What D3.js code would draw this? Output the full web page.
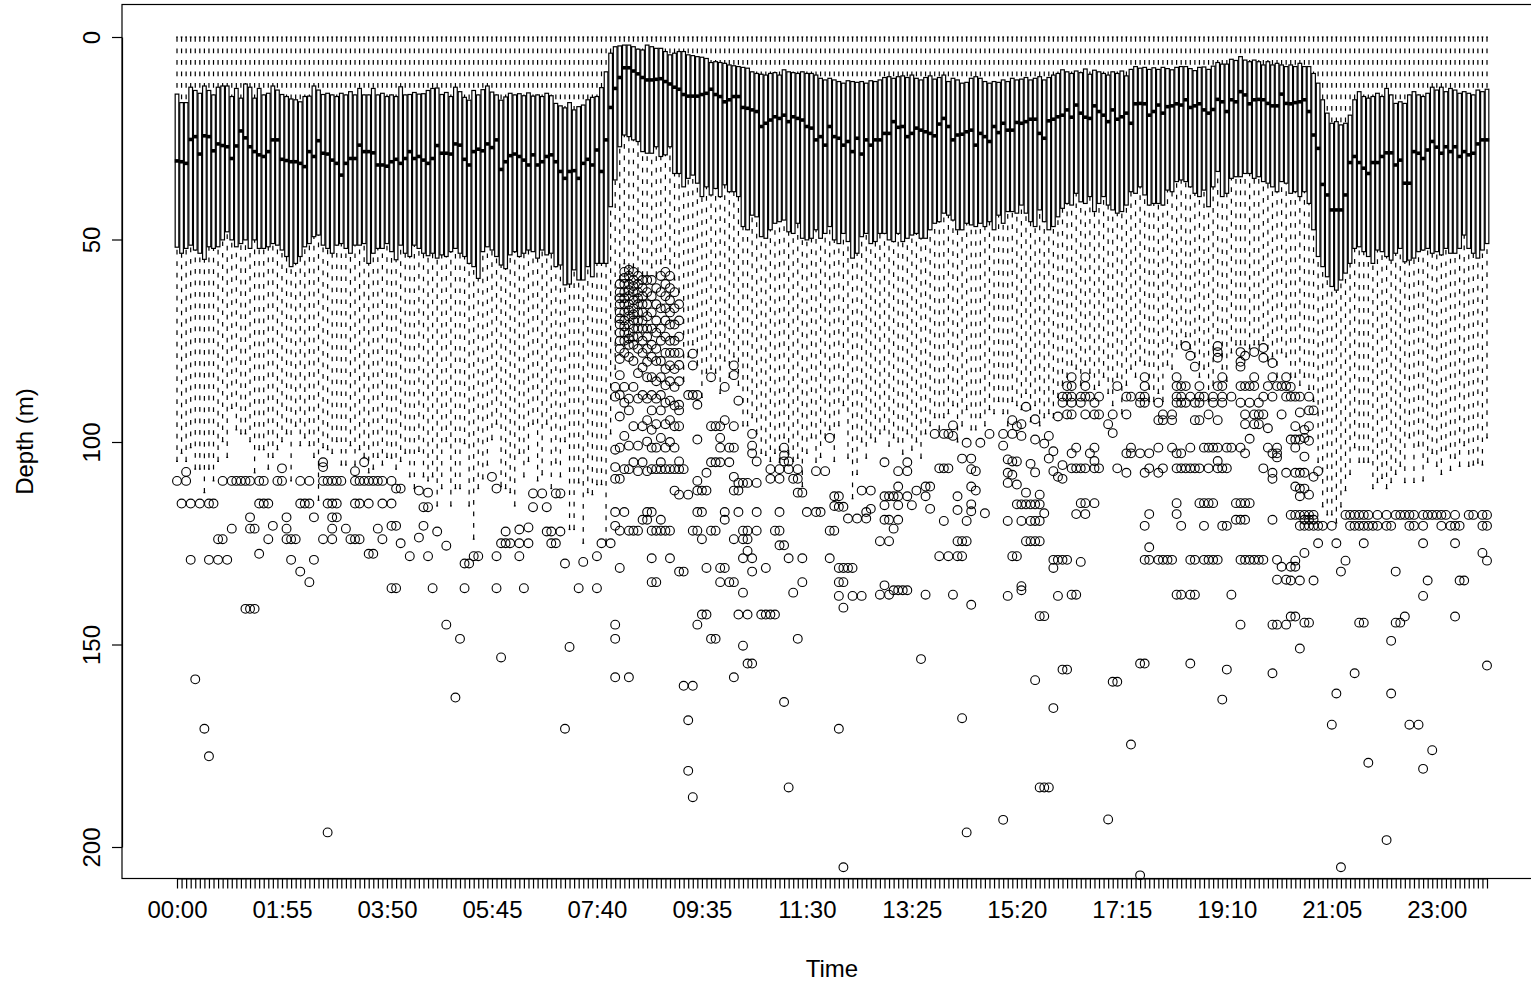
<!DOCTYPE html>
<html>
<head>
<meta charset="utf-8">
<script src="https://cdn.jsdelivr.net/npm/d3@7"></script>
<style>
  body { margin: 0; background: #fff; }
  svg { display: block; }
  text { font-family: "Liberation Sans", Arial, Helvetica, sans-serif; fill: #000; }
</style>
</head>
<body>
<svg id="chart" width="1531" height="986"></svg>
<script>
// Dive depth by time of day: one box per 5-minute bin (288 bins).
const times = [];
for (let m = 0; m < 1440; m += 5) {
  times.push(String(Math.floor(m / 60)).padStart(2, "0") + ":" + String(m % 60).padStart(2, "0"));
}
const tickLabels = ["00:00","01:55","03:50","05:45","07:40","09:35","11:30","13:25","15:20","17:15","19:10","21:05","23:00"];
const depthTicks = [0, 50, 100, 150, 200];

// shallowest value of every bin (surface)
const surfaceDepth = 0;

// lower hinge (25%), metres
const q1 = [
 14.1,16.2,16.2,12.4,13.2,13.9,12.1,13.2,14.3,12.4, 12.1,12.1,14.7,12.7,15.1,11.6,12.4,15.1,12.7,14.3,
 13.9,12.1,13.1,14.2,14.7,15.3,15.5,16.0,14.7,14.6, 12.1,13.1,14.2,13.9,14.3,14.7,13.9,14.3,13.5,14.3,
 12.7,14.3,14.3,12.7,14.3,13.9,14.7,14.3,14.7,12.3, 14.3,14.2,13.7,14.1,
 14.0,13.2,12.7,12.6,14.2,13.7,14.7,12.4,13.5,14.9, 15.6,13.2,14.3,13.0,12.1,13.6,14.3,15.6,14.8,13.9,
 14.3,14.0,14.5,13.8,14.6,14.3,14.7,13.9,14.5,16.4, 17.0,17.5,16.2,18.0,17.2,16.8,15.5,14.9,14.7,12.5,
 8.6,4.0,2.4,2.2,2.0,2.0,2.4,3.0,3.2,2.0, 2.4,2.8,2.8,3.6,4.4,4.0,3.6,3.6,4.4,4.6,4.85,
 5.0,5.3,6.3,6.1,6.3,6.5,6.9,7.1,7.3,7.5, 7.7,8.6,9.0,9.2,9.4,9.0,8.8,9.4,8.1,8.6,
 8.8,9.0,8.6,9.0,9.0,9.4,10.2,10.6,10.2,10.6, 11.0,11.4,10.8,11.0,11.2,11.0,11.4,10.8,11.0,10.6,
 10.0,9.8,10.2,9.8,9.6,10.0,9.4,10.2,10.6,10.0, 9.6,10.4,10.0,9.4,11.0,10.2,10.6,
 11.4,11.2,10.2,9.8,10.2,11.0,11.4,11.0,11.2,10.6, 11.0,10.2,10.6,10.4,10.0,10.6,10.2,9.8,10.6,10.0,
 9.4,9.0,8.1,8.6,9.0,8.4,8.8,7.9,9.2,8.2, 8.6,9.0,9.4,8.6,9.0,8.4,9.6,8.0,7.3,7.7,
 7.5,8.0,7.6,8.0,7.5,7.8,8.1,7.5,7.3,7.3, 7.8,8.3,7.5,7.4,8.0,7.2,6.3,6.7,6.7,5.5,5.8,
 4.85,5.7,6.1,5.7,6.1,6.9,6.1,6.9,6.5,6.9, 7.3,6.9,7.3,6.5,7.3,7.3,9.0,11.4,15.5,18.8,
 21.3,20.9,21.7,21.3,19.3,15.5,13.5,14.7,15.1,14.7, 13.9,14.7,12.7,14.3,16.4,16.0,16.4,14.3,13.5,14.3,
 14.7,13.9,12.4,13.1,12.4,13.5,12.7,13.1,13.9,13.5, 13.9,14.3,13.1,13.5,12.9
];

// median, metres
const med = [
 30.6,30.8,31.2,25.3,24.6,28.9,24.4,24.6,28.1,26.4, 26.8,27.1,30.0,26.9,23.2,24.9,27.1,28.3,29.1,29.5,
 28.3,25.4,25.4,30.2,30.5,30.8,30.8,31.2,32.0,28.3, 29.5,25.6,28.7,28.9,30.4,31.2,34.1,31.2,30.0,30.0,
 26.7,28.3,28.3,28.6,31.6,31.6,31.9,30.8,30.2,31.2, 30.0,28.3,30.0,29.5,
 30.4,31.2,30.0,26.8,28.7,28.7,28.9,26.4,26.7,30.2, 31.6,28.3,27.7,28.1,26.4,27.3,25.4,32.7,30.8,29.3,
 28.9,29.5,30.4,31.6,29.1,31.6,30.8,29.5,29.1,30.8, 33.2,34.9,33.2,33.0,34.9,31.2,30.2,31.6,27.9,33.2,
 25.4,17.4,12.7,10.0,7.6,7.6,8.4,9.1,10.0,10.6, 10.6,10.45,10.3,11.0,11.6,12.4,12.9,14.2,14.6,14.6,14.6,
 14.2,13.9,12.9,14.2,14.7,16.0,15.5,14.7,14.7,17.4, 17.6,18.0,18.4,22.1,21.3,20.5,19.7,20.1,19.3,20.9,
 19.7,20.1,20.5,22.1,22.5,25.4,24.6,26.7,22.1,24.6, 25.0,26.7,25.8,28.3,25.0,28.9,25.4,26.7,25.4,25.4,
 23.8,23.8,20.9,22.3,22.1,24.6,23.8,22.5,23.0,23.4, 23.8,24.4,21.5,20.1,22.1,25.4,24.2,
 24.0,23.4,23.0,26.7,23.8,24.6,25.8,22.1,23.6,21.3, 23.0,23.0,21.1,21.3,20.9,20.3,20.3,23.8,25.0,20.7,
 20.3,19.7,19.3,18.0,19.8,16.8,18.8,19.8,20.1,17.0, 18.4,19.3,20.9,18.0,20.3,19.7,18.8,21.3,16.5,16.4,
 16.5,19.3,18.4,16.8,18.8,17.2,17.0,16.5,16.8,15.5, 17.4,17.0,16.5,18.0,18.8,17.9,15.4,16.0,18.4,15.5,16.0,
 13.5,14.3,16.5,15.5,15.4,15.5,16.4,17.0,17.0,14.1, 16.4,16.5,16.2,16.0,15.5,18.4,24.2,27.5,36.4,39.0,
 42.7,42.7,42.7,39.0,31.0,29.5,31.0,32.4,33.7,31.0, 31.0,29.5,28.6,28.6,31.6,30.4,36.1,36.1,28.3,28.7,
 30.0,27.9,25.8,27.2,28.7,27.1,28.3,27.1,29.5,28.3, 29.1,28.7,26.4,25.4,25.4
];

// upper hinge (75%), metres
const q3 = [
 51.9,53.4,52.2,51.4,52.6,53.4,54.9,51.8,52.2,51.8, 50.1,48.1,50.1,51.8,51.0,50.1,52.2,50.1,52.2,52.2,
 51.8,51.0,51.4,52.6,54.2,56.7,55.9,54.2,51.8,51.0, 49.3,48.9,51.4,52.2,53.4,51.4,51.0,52.2,53.4,51.4,
 51.4,51.0,55.9,53.4,52.2,52.2,51.0,53.0,55.0,51.4, 53.4,54.2,51.4,52.2,
 53.4,54.0,53.4,54.6,53.8,54.2,53.0,52.2,53.4,54.2, 55.9,56.7,59.6,53.0,51.8,52.6,54.2,56.3,57.2,53.8,
 53.0,54.2,53.4,52.6,53.0,54.6,52.6,53.8,53.4,56.7, 56.3,61.2,61.0,57.5,60.0,60.0,56.7,59.2,55.9,55.9,
 55.9,41.9,35.3,27.1,24.2,24.6,25.4,25.8,28.3,28.7, 28.7,27.1,29.5,29.1,27.1,33.7,33.7,37.0,34.9,34.1,36.1,
 39.4,37.0,39.0,37.4,39.4,36.5,38.2,38.2,39.4,46.8, 47.6,44.0,44.4,49.3,49.7,47.6,46.0,45.6,45.2,48.1,
 48.5,46.0,49.7,50.1,49.7,47.6,49.7,48.5,46.8,50.1, 51.0,48.5,50.5,54.6,53.4,49.3,48.5,51.0,50.5,48.5,
 48.5,50.1,50.5,48.5,50.5,49.7,48.9,48.5,49.7,49.7, 47.6,46.0,45.6,43.5,44.0,45.2,47.6,
 47.6,46.0,46.4,46.8,46.0,46.8,45.6,47.6,44.0,46.0, 43.1,43.1,43.5,41.5,43.5,45.6,46.8,42.7,45.6,47.6,
 46.8,44.4,42.3,41.1,41.5,38.6,40.7,41.1,39.4,43.1, 41.1,39.4,41.5,42.7,43.5,43.1,41.5,38.2,38.6,37.0,
 39.0,41.5,41.1,41.1,41.5,37.8,38.2,35.7,35.3,35.7, 37.0,38.6,39.4,37.8,41.9,37.0,33.2,39.4,38.6,34.9,34.5,
 34.5,33.7,33.7,34.9,34.5,35.7,36.1,37.0,38.2,35.7, 36.1,38.6,38.2,39.4,38.2,41.1,47.6,54.2,56.7,59.2,
 61.6,62.5,60.0,58.3,55.9,52.2,51.8,53.0,54.2,55.9, 52.6,53.0,54.2,55.1,53.4,52.2,55.5,55.1,54.6,53.0,
 52.6,52.2,53.4,53.0,53.8,52.2,53.4,53.4,52.2,48.9, 52.2,53.4,54.6,52.6,51.0
];

// deepest value inside 1.5 IQR (lower whisker end), metres
const whiskerEnd = [
 104.8,102.8,104.8,101.4,106.7,106.7,112.5,106.7,109.6,104.8, 99.9,103.8,91.7,97.0,98.0,98.0,99.9,107.6,101.9,101.9,
 106.7,103.8,101.9,99.9,98.0,109.6,96.1,100.9,99.0,100.9, 103.8,114.4,101.4,101.9,102.8,99.9,105.7,105.7,100.9,105.7,
 101.9,103.8,107.6,106.7,103.8,105.7,103.8,104.0,
 106.7,104.8,102.8,108.6,111.5,102.3,108.6,109.6,108.6,115.8, 111.5,99.9,115.8,111.5,111.5,100.4,115.8,124.0,111.5,109.1,
 105.7,99.4,95.6,111.0,111.5,112.5,115.8,102.8,108.6,104.8, 95.6,109.6,108.1,95.6,111.5,105.2,108.6,99.9,121.6,121.6,
 110.1,125.0,112.5,113.0,110.5,110.5,125.0,98.0,
 82,60,56,57,57,58,59,59,57,59, 56,55,56,60,63,85,79,76,81,89,
 83,82,83,88,80,84,79,86,96,96, 94,98,102.8,103.3,104.8,102.8,105,99,103,104.8,
 104,111,102.8,99,105,103.8,99,97,104.8,96, 91,
 104,114,108,100,104,99,100,98,97,101, 99,100,103,98,102,100,104,98,96,94,
 97,94,93,91,100,96,92,97,97,94, 96,92,93,90,93,96,90,91,92,88,
 95,91,96,94,93,94,89,
 86,84,81,82,86,81,83,87,86,84, 88,91,84,93,86,82,84,80,81,90,
 90,88,90,81,82,77,76,74,77,79, 84,82,90,86,73,82,85,78,76,76,
 76,77,76,76,75,80,79,84,78,79,
 84,84,86,84,87,90,105,116,118,118, 120,116,112,108,101.4,105,105,105,111.5,110,
 109,111.5,110,108,106,110,99,110,101,109.6, 105,102.8,106,108,102,107,104,106,100.9,106,
 105.7,105.2,105.7,99
];

// outlying depths per bin: [bin index, depths]
const outliers = [
 [0,[109.6]],[1,[115.2]],[2,[107.4,109.6]],[3,[115.2,129.1]],[4,[158.6]],[5,[115.2]],[6,[170.8]],
 [7,[115.2,129.1,177.6]],[8,[115.2]],[9,[124.0,129.1]],[10,[109.6,124.0]],[11,[129.1]],[12,[109.6,121.4]],
 [13,[109.6]],[14,[109.6]],[15,[109.6,141.2]],[16,[109.6,118.6,121.4,141.2]],[17,[121.4,141.2]],
 [18,[109.6,115.2,127.6]],[19,[109.6,115.2]],[20,[115.2,124.0]],[21,[120.7]],[22,[109.6]],[23,[106.5,109.6]],
 [24,[118.6,121.4,124.0]],[25,[124.0,129.1]],[26,[124.0]],[27,[109.6,115.2,132.0]],[28,[115.2]],
 [29,[109.6,115.2,134.6]],[30,[118.6,129.1]],[32,[105.0,106.2,109.6,124.0]],[33,[109.6,115.2,196.4]],
 [34,[109.6,115.2,118.6,121.4,124.0]],[35,[109.6,115.2,118.6]],[36,[109.6]],[37,[121.4]],[38,[124.0]],
 [39,[107.2,109.6,115.2,124.0]],[40,[109.6,115.2,124.0]],[41,[105.0,109.6]],[42,[109.6,115.2,127.6]],
 [43,[109.6,127.6]],[44,[109.6,121.4]],[45,[109.6,115.2,124.0]],[47,[109.6,115.2,120.7,136.1]],
 [48,[111.5,120.7,136.1]],[49,[111.5,125.0]],[51,[128.2]],[53,[112.0,123.6]],[54,[116.1,120.7]],
 [55,[112.5,116.1,128.2]],[56,[136.1]],[57,[122.1]],[59,[125.6,145.1]],[61,[163.1]],[62,[148.6]],
 [63,[130.0,136.1]],[64,[130.0]],[65,[128.2]],[66,[128.2]],[69,[108.6]],[70,[111.5,128.2,136.1]],
 [71,[125.0,153.2]],[72,[122.1,125.0]],[73,[125.0]],[75,[121.6,125.0,128.2]],[76,[136.1]],[77,[121.1,125.0]],
 [78,[112.7,116.1]],[80,[112.7]],[81,[116.1,122.1]],[82,[122.1,125.0]],[83,[112.7,125.0]],[84,[112.7,122.1]],
 [85,[130.0,170.8]],[86,[150.6]],[88,[136.1]],[89,[129.6]],[92,[128.2,136.1]],[93,[125.0]],[95,[125.0]],
 [96,[86.4,88.8,101.9,106.2,109.1,117.3,120.7,145.1,148.6,158.1]],
 [97,[61,63,64.5,66,68,69.5,71,73,75,77,79.5,83.5,88.4,93.7,101.4,109.1,121.9,131.1]],
 [98,[58,59.5,61,63,64.5,66,68,70,71.5,73,75,78,86.4,90.3,98.5,106.7,117.3]],
 [99,[57.5,59,61,62.5,64,66,67.5,69,71,73,74.5,76,79,89.3,92.2,100.9,106.7,121.9,158.1]],
 [100,[58,60,61.5,63,65,67,68.5,70,72,74,76,80,86.4,96.1,105,121.9]],
 [101,[59,61,63,64.5,66,68,70,72,74,77,83,89.3,100.9,107.2,121.9]],
 [102,[60,62,64,66,68,70,72,75,78,81.6,88.4,96.1,105,119.2]],
 [103,[60,63,66,69,72,74,77,80.2,84,89.3,94.6,99.9,107.2,117.3,119.2]],
 [104,[60,64,68,72,76,79,84,88.4,92.2,97,101.4,106.7,117.3,121.9,128.7,134.6]],
 [105,[62,66,70,73,77,80,85,89.3,95.6,101.4,106.7,121.9,134.6]],
 [106,[59,63,67,72,75,80,84,88.4,92.2,99,105,106.7,119.2,121.9]],
 [107,[58,61,64,67,70,74,78,82,86,90.3,95.6,101.4,106.7,121.9]],
 [108,[59,62,65,68,71,75,78,81.1,85,89.8,94.6,100,106.7,121.9,128.7]],
 [109,[63,67,71,75,78,82,86.4,91,96.1,101.4,106.7,112]],
 [110,[66,70,74,78,81,85,90.8,92.2,96.1,104.8,106.7,113,132]],
 [111,[106.7,132,160.2]],[112,[88.4,113,168.7,181.2]],[113,[78.2,81.1,88.4,121.9,160.2,187.7]],
 [114,[88.4,90.8,99.4,109.6,112,117.3,121.9,145.1]],[115,[112,117.3,124,142.6]],[116,[107.6,112,131.1,142.6]],
 [117,[84,96.1,105,121.9,148.6]],[118,[96.1,105,121.9,148.6]],[119,[96.1,99,101.4,105,131.1,134.6]],
 [120,[86.4,94.6,117.3,119.2,131.1]],[121,[101.4,105,134.6]],[122,[81.1,83.5,96.1,101.4,108.6,112,124,134.6,158.1]],
 [123,[89.8,110.1,112,117.3,142.6]],[124,[110.1,121.9,124,128.7,137.2,150.3]],[125,[110.1,121.9,124,126.9,142.6,154.7]],
 [126,[98,100.9,102.8,128.7,132,154.7]],[127,[104.8,110.1,117.3,121.9]],[128,[142.6]],[129,[131.1,142.6]],
 [130,[106.7,109.1,142.6]],[131,[121.9,142.6]],[132,[106.7,109.1,117.3,121.9,125.5]],[133,[101.4,103.3,104.8,125.5,164.2]],
 [134,[104.8,106.7,128.7,185.3]],[135,[109.1,137.2]],[136,[106.7,109.1,112.5,148.6]],[137,[112.5,128.7,134.6]],
 [138,[117.3]],[140,[107.2,117.3]],[141,[117.3]],[142,[107.2]],[143,[99,121.9,128.7]],[144,[113.4,115.8,121.9]],
 [145,[113.4,116,131.1,134.6,138,170.8]],[146,[116,131.1,134.6,140.9,205]],[147,[118.9,131.1]],[148,[131.1,138]],
 [149,[118.9]],[150,[112,138]],[151,[117.3,118.9]],[152,[112,116.5]],[154,[124.5,137.7]],
 [155,[105,113.4,115.6,119.2,135.4]],[156,[113.4,119.2,124.5,137.7]],[157,[113.4,121.4,136.6]],
 [158,[107.2,111,113.4,115.6,119.2,136.6]],[159,[136.6]],[160,[105,107.2,113.4,136.6]],[161,[115.6]],[162,[112]],
 [163,[153.6]],[164,[111,113.4,137.7]],[165,[111,116.5]],[166,[98]],[167,[106.5,128.2]],[168,[98,106.5,119.5]],
 [169,[98,106.5,128.2]],[170,[95.9,98.5,137.7]],[171,[113.4,116.8,124.5,128.2]],[172,[104.1,124.5,128.2,168.2]],
 [173,[100.2,119.5,124.5,196.4]],[174,[104.1,106.7,111,115.4,117.1,140.2]],[175,[107.2,112]],[176,[100.2]],
 [177,[117.6]],[178,[98]],[181,[98,100.9,193.3]],[182,[104.3,107.6,110.1,119.5,138]],[183,[94.6,98,104.8,108.1,128.2]],
 [184,[96.1,104.8,110.5,115.4,128.2]],[185,[95.6,98.5,115.4,119.5,135.6,136.6]],[186,[91.3,112.5,115.4,124.5]],
 [187,[105.4,115.4,119.5,124.5]],[188,[94.4,99.4,107.5,115.4,119.5,124.5,158.8]],[189,[113,115.4,119.5,124.5,143,185.3]],
 [190,[100.4,117.6,143,185.3]],[191,[98.5,104.1,185.3]],[192,[102.3,107.2,129.1,131.1,165.7]],[193,[93.7,108.6,129.1,138]],
 [194,[88.8,90.3,105.7,109.1,129.1,156.2]],[195,[86.2,88.8,93.2,129.1,156.2]],
 [196,[84,86.2,88.8,90.3,93.2,102.8,106.5,137.7]],[197,[101.4,106.5,117.8,137.7]],[198,[88.8,90.3,106.5,115.1,129.6]],
 [199,[84,86.2,88.8,93.2,106.5,115.1,117.8]],[200,[88.8,102.8]],[201,[90.3,93.2,101.4,104.7,106.5,115.1]],
 [202,[88.8,93.2,106.5]],[204,[95.6,193.2]],[205,[93.2,97.8,159.2]],[206,[86.2,106.5,159.2]],
 [208,[88.8,93.2,102.8,107.6]],[209,[88.8,101.4,102.8,174.7]],[211,[88.8,90.3,102.8,154.7,207]],
 [212,[84,86.2,88.8,90.3,107.6,120.7,129.1,154.7]],[213,[102.8,106.5,117.8,126,129.1]],[215,[90.3,94.6,101.4,107.6,129.1]],
 [216,[93.2,94.6,106.5,129.1]],[217,[129.1]],[218,[93.2,94.6,101.4,129.1]],
 [219,[84,86.2,88.8,90.3,102.8,106.5,115.1,117.8,137.7]],[220,[86.2,88.8,90.3,102.8,106.5,120.7,137.7]],
 [221,[76.3,86.2,90.3,106.5]],[222,[78.7,88.8,101.4,106.5,129.1,137.7,154.7]],[223,[81.4,90.3,94.6,106.5,129.1,137.7]],
 [224,[86.2,88.8,90.3,94.6,106.5,115.1]],[225,[88.8,101.4,115.1,120.7,129.1]],[226,[93.2,101.4,106.5,115.1,129.1]],
 [227,[88.8,90.3,101.4,115.1,129.1]],[228,[76.3,77.8,79.2,86.2,94.6,101.4,104.7,106.5,129.1]],
 [229,[84,86.2,88.8,90.3,106.5,120.7,163.6]],[230,[101.4,106.5,120.7,156.2]],[231,[88.8,101.4,137.7]],[232,[115.1,119.2]],
 [233,[77.8,80.2,81.4,86.2,90.3,101.4,115.1,119.2,129.1,145.1]],[234,[78.7,86.2,93.2,95.6,102.8,115.1,119.2,129.1]],
 [235,[86.2,90.3,99.2,115.1,129.1]],[236,[77.8,84,86.2,93.2,95.6,129.1]],[237,[90.3,93.2,95.6,129.1]],
 [238,[76.8,79.2,88.8,93.2,106.5,129.1]],[239,[86.2,96.6,101.4]],[240,[80.5,84,88.8,102.8,107.6,109.1,119.2,145.1,157.1]],
 [241,[86.2,101.4,102.8,103.8,129.1,134,145.1]],[242,[86.2,93.2,130.8]],[243,[84,86.2,88.8,107.6,134,145.1]],
 [244,[86.4,88.8,99.4,118,130.8,134.2,143.1]],[245,[88.8,96.1,99.4,101.4,107.6,111,118,129.3,130.8,143.1]],
 [246,[88.8,92.7,99.4,107.6,111.5,113.4,118,120.7,134.2,151]],[247,[97,99,103.6,107.6,111.5,118,119.2,120.7,127.4,144.6]],
 [248,[88.8,92.2,96.1,99.7,113,118,119.2,120.7,144.6]],[249,[92.2,108.6,118,119.2,120.7,134.2]],[250,[107.2,120.7,125]],
 [251,[120.7]],[253,[120.7,169.8]],[254,[125,162.1]],[255,[132,205]],[256,[118,129.3]],[257,[118,120.7]],
 [258,[118,120.7,157.1]],[259,[118,120.7,144.6]],[260,[118,120.7,125,144.6]],[261,[118,120.7,179.2]],[262,[120.7]],
 [263,[118,120.7]],[265,[118,120.7,198.3]],[266,[120.7,149.1,162.1]],[267,[118,132,144.6]],[268,[118,144.6]],
 [269,[118,143.1]],[270,[118,120.7,169.8]],[271,[118,120.7]],[272,[169.8]],[273,[118,120.7,125,138,180.7]],
 [274,[118,134.2]],[275,[118,176.1]],[276,[118]],[277,[118,120.7]],[278,[118]],[279,[120.7]],
 [280,[118,120.7,125,143.1]],[281,[120.7,134.2]],[282,[134.2]],[283,[118]],[284,[118]],
 [286,[118,120.7,127.4]],[287,[118,120.7,129.3,155.2]]
];

const svg = d3.select("#chart");
const frame = { left: 122, top: 4.5, right: 1542, bottom: 878.5 };
const fontSize = 24;

const x = d3.scalePoint().domain(times).range([177, 1487]);
const y = d3.scaleLinear().domain([0, 200]).range([37, 847]);

const step = x.step();
const boxW = step * 0.8;
const capW = boxW * 0.5;
const lw = 1.2;
const dash = "4.7,6.8";

const bins = times.map((t, i) => ({
  t, cx: x(t), lo: surfaceDepth, q1: q1[i], med: med[i], q3: q3[i], hi: whiskerEnd[i]
}));

const g = svg.append("g");

// whiskers: dashed, drawn from each end toward the box
const wk = g.append("g").attr("stroke", "#000").attr("stroke-width", lw).attr("stroke-dasharray", dash).attr("fill", "none");
wk.selectAll("line.top").data(bins).join("line").attr("class", "top")
  .attr("x1", d => d.cx).attr("x2", d => d.cx)
  .attr("y1", d => y(d.lo)).attr("y2", d => y(d.q1));
wk.selectAll("line.bot").data(bins).join("line").attr("class", "bot")
  .attr("x1", d => d.cx).attr("x2", d => d.cx)
  .attr("y1", d => y(d.hi)).attr("y2", d => y(d.q3));

// staples
const st = g.append("g").attr("stroke", "#000").attr("stroke-width", lw);
st.selectAll("line.s0").data(bins).join("line").attr("class", "s0")
  .attr("x1", d => d.cx - capW / 2).attr("x2", d => d.cx + capW / 2)
  .attr("y1", d => y(d.lo)).attr("y2", d => y(d.lo));
st.selectAll("line.s1").data(bins).join("line").attr("class", "s1")
  .attr("x1", d => d.cx - capW / 2).attr("x2", d => d.cx + capW / 2)
  .attr("y1", d => y(d.hi)).attr("y2", d => y(d.hi));

// boxes
g.append("g").selectAll("rect").data(bins).join("rect")
  .attr("x", d => d.cx - boxW / 2).attr("width", boxW)
  .attr("y", d => y(d.q1)).attr("height", d => y(d.q3) - y(d.q1))
  .attr("fill", "#fff").attr("stroke", "#000").attr("stroke-width", lw);

// medians
g.append("g").selectAll("line").data(bins).join("line")
  .attr("x1", d => d.cx - boxW / 2 - 0.4).attr("x2", d => d.cx + boxW / 2 + 0.4)
  .attr("y1", d => y(d.med)).attr("y2", d => y(d.med))
  .attr("stroke", "#000").attr("stroke-width", 3.6);

// outlying points
const pts = [];
outliers.forEach(([i, ds]) => ds.forEach(v => pts.push({ t: times[i], v })));
g.append("g").selectAll("circle").data(pts).join("circle")
  .attr("cx", d => x(d.t)).attr("cy", d => y(d.v)).attr("r", 4.4)
  .attr("fill", "none").attr("stroke", "#000").attr("stroke-width", 1.1);

// plot frame
svg.append("rect")
  .attr("x", frame.left).attr("y", frame.top)
  .attr("width", frame.right - frame.left).attr("height", frame.bottom - frame.top)
  .attr("fill", "none").attr("stroke", "#000").attr("stroke-width", lw);

// y axis
const yAxis = svg.append("g").attr("transform", `translate(${frame.left},0)`)
  .call(d3.axisLeft(y).tickValues(depthTicks).tickSize(10).tickSizeOuter(0).tickFormat(d3.format("d")));
yAxis.selectAll("path, line").attr("stroke", "#000").attr("stroke-width", lw);
yAxis.selectAll("text")
  .attr("x", null).attr("dy", null)
  .attr("transform", "translate(-22,0) rotate(-90)")
  .attr("text-anchor", "middle").attr("font-size", fontSize).attr("font-family", null);

// x axis
const labelSet = new Set(tickLabels);
const xAxis = svg.append("g").attr("transform", `translate(0,${frame.bottom})`)
  .call(d3.axisBottom(x).tickSize(10).tickSizeOuter(0).tickFormat(d => labelSet.has(d) ? d : ""));
xAxis.selectAll("path, line").attr("stroke", "#000").attr("stroke-width", lw);
xAxis.selectAll("text").attr("y", 39).attr("dy", null).attr("font-size", fontSize).attr("font-family", null);

// axis titles
svg.append("text").attr("x", (frame.left + frame.right) / 2).attr("y", 977)
  .attr("text-anchor", "middle").attr("font-size", fontSize).text("Time");
svg.append("text").attr("transform", `translate(33,${(frame.top + frame.bottom) / 2}) rotate(-90)`)
  .attr("text-anchor", "middle").attr("font-size", fontSize).text("Depth (m)");
</script>
</body>
</html>
